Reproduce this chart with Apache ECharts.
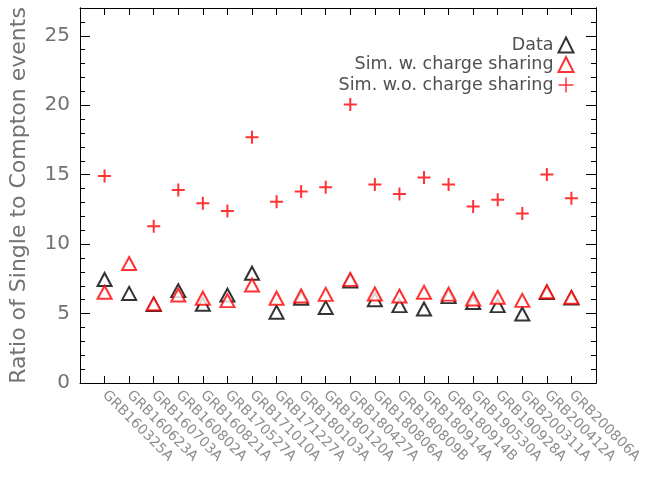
<!DOCTYPE html>
<html>
<head>
<meta charset="utf-8">
<script src="https://cdn.jsdelivr.net/npm/echarts@6/dist/echarts.min.js"></script>
<style>
  html, body { margin: 0; padding: 0; background: #fff; }
  #chart { width: 649px; height: 479px; }
</style>
</head>
<body>
<div id="chart"></div>
<script>
// GRB events, one per category slot along the x axis
const grbNames = [
  'GRB160325A', 'GRB160623A', 'GRB160703A', 'GRB160802A', 'GRB160821A',
  'GRB170527A', 'GRB171010A', 'GRB171227A', 'GRB180103A', 'GRB180120A',
  'GRB180427A', 'GRB180806A', 'GRB180809B', 'GRB180914A', 'GRB180914B',
  'GRB190530A', 'GRB190928A', 'GRB200311A', 'GRB200412A', 'GRB200806A'
];

// Ratio of single-site to Compton events
const dataRatio = [
  7.45, 6.45, 5.65, 6.65, 5.67, 6.33, 7.9, 5.1, 6.1, 5.43,
  7.35, 6.0, 5.57, 5.33, 6.22, 5.8, 5.57, 4.97, 6.52, 6.12
];
const simWithSharing = [
  6.53, 8.6, 5.7, 6.33, 6.1, 5.93, 7.05, 6.1, 6.27, 6.38,
  7.46, 6.41, 6.26, 6.53, 6.4, 6.05, 6.17, 5.95, 6.57, 6.17
];
// no simulation without charge sharing for GRB160623A
const simWithoutSharing = [
  14.9, null, 11.28, 13.9, 12.95, 12.38, 17.7, 13.05, 13.78, 14.1,
  20.05, 14.3, 13.6, 14.8, 14.3, 12.7, 13.2, 12.2, 15.02, 13.3
];

const yMajor = [0, 5, 10, 15, 20, 25];
const yMinor = [1, 2, 3, 4, 6, 7, 8, 9, 11, 12, 13, 14, 16, 17, 18, 19, 21, 22, 23, 24, 26];

const slots = grbNames.map((_, i) => i);
const toPoints = arr => arr.map((v, i) => (v == null ? null : [i, v])).filter(p => p);

const crossPath = 'path://M0,6.5L13,6.5M6.5,0L6.5,13';
const textFont = '"DejaVu Sans", sans-serif';

const frameLine = { show: true, onZero: false, lineStyle: { color: '#000', width: 1 } };

function xAxisDef(position, withLabels) {
  return {
    type: 'value', position: position, min: -1, max: 20,
    axisLine: frameLine,
    splitLine: { show: false },
    axisTick: { show: true, inside: true, length: 7, customValues: slots,
                lineStyle: { color: '#000', width: 1 } },
    axisLabel: withLabels ? {
      show: true, customValues: slots, rotate: -45, margin: 10,
      color: '#8e8e8e', fontFamily: textFont, fontSize: 14,
      formatter: v => grbNames[Math.round(v)] || ''
    } : { show: false }
  };
}

function yAxisDef(position, ticks, len, withLabels) {
  const axis = {
    type: 'value', position: position, min: 0, max: 27,
    axisLine: frameLine,
    splitLine: { show: false },
    axisTick: { show: true, inside: true, length: len, customValues: ticks,
                lineStyle: { color: '#000', width: 1 } },
    axisLabel: withLabels ? {
      show: true, customValues: yMajor, margin: 10,
      color: '#727272', fontFamily: textFont, fontSize: 20
    } : { show: false }
  };
  if (withLabels) {
    axis.name = 'Ratio of Single to Compton events';
    axis.nameLocation = 'middle';
    axis.nameGap = 50;
    axis.nameTextStyle = { color: '#727272', fontFamily: textFont, fontSize: 22 };
  }
  return axis;
}

const chart = echarts.init(document.getElementById('chart'), null, { renderer: 'canvas' });
chart.setOption({
  animation: false,
  backgroundColor: '#fff',
  grid: { left: 78, right: 53, top: 8, bottom: 96, containLabel: false },
  xAxis: [xAxisDef('bottom', true), xAxisDef('top', false)],
  yAxis: [
    yAxisDef('left', yMajor, 10, true),
    yAxisDef('left', yMinor, 5, false),
    yAxisDef('right', yMajor, 10, false),
    yAxisDef('right', yMinor, 5, false)
  ],
  legend: {
    orient: 'vertical', right: 68, top: 31, align: 'right',
    itemWidth: 15, itemHeight: 15, itemGap: 1.5,
    textStyle: { color: '#505050', fontFamily: textFont, fontSize: 17.5 },
    data: [
      { name: 'Data', icon: 'emptyTriangle',
        itemStyle: { color: '#000', borderColor: '#000', borderWidth: 1.2 } },
      { name: 'Sim. w. charge sharing', icon: 'emptyTriangle',
        itemStyle: { color: '#ff0000', borderColor: '#ff0000', borderWidth: 1.2 } },
      { name: 'Sim. w.o. charge sharing', icon: crossPath,
        itemStyle: { color: 'none', borderColor: '#ff0000', borderWidth: 1.5 } }
    ]
  },
  series: [
    {
      name: 'Data', type: 'scatter', xAxisIndex: 0, yAxisIndex: 0,
      symbol: 'emptyTriangle', symbolSize: [14, 13],
      itemStyle: { color: '#000', borderWidth: 1.6 },
      emphasis: { disabled: true },
      data: toPoints(dataRatio)
    },
    {
      name: 'Sim. w. charge sharing', type: 'scatter', xAxisIndex: 0, yAxisIndex: 0,
      symbol: 'emptyTriangle', symbolSize: [14, 13],
      itemStyle: { color: '#ff0000', borderWidth: 1.6 },
      emphasis: { disabled: true },
      data: toPoints(simWithSharing)
    },
    {
      name: 'Sim. w.o. charge sharing', type: 'scatter', xAxisIndex: 0, yAxisIndex: 0,
      symbol: crossPath, symbolSize: 13,
      itemStyle: { color: 'none', borderColor: '#ff0000', borderWidth: 2 },
      emphasis: { disabled: true },
      data: toPoints(simWithoutSharing)
    }
  ]
});
</script>
</body>
</html>
